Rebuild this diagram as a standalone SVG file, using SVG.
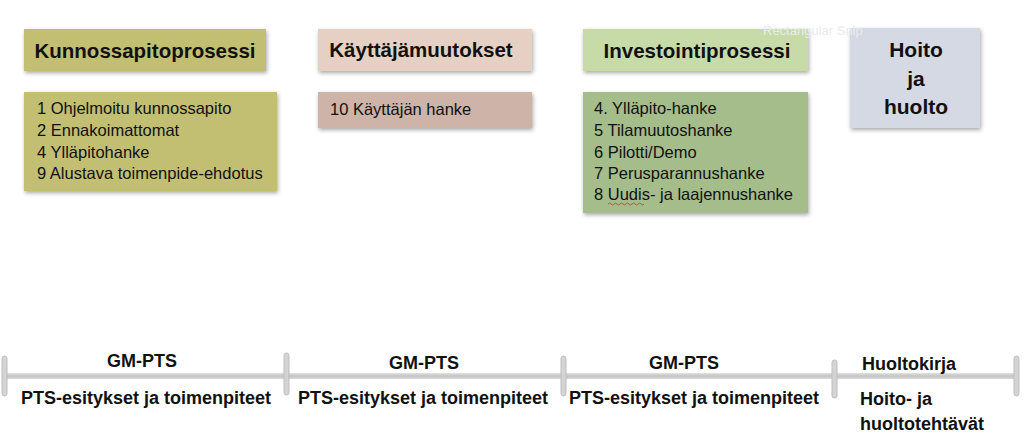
<svg xmlns="http://www.w3.org/2000/svg" width="1024" height="437" viewBox="0 0 1024 437">
<style>
.t{font-family:"Liberation Sans",Arial,sans-serif;fill:#111;}
.h{font-size:20.5px;font-weight:bold;}
.i{font-size:16.5px;}
.l{font-size:18px;font-weight:bold;}
.box{filter:url(#sh);}
.tick{fill:#d4d4d4;stroke:#bdbdbd;stroke-width:1;}
</style>
<defs>
<filter id="sh" x="-10%" y="-20%" width="120%" height="140%">
<feGaussianBlur in="SourceAlpha" stdDeviation="2"/>
<feOffset dx="1" dy="2" result="b"/>
<feComponentTransfer><feFuncA type="linear" slope="0.35"/></feComponentTransfer>
<feMerge><feMergeNode/><feMergeNode in="SourceGraphic"/></feMerge>
</filter>
<linearGradient id="lg" x1="0" y1="0" x2="0" y2="1">
<stop offset="0" stop-color="#e2e2e2"/><stop offset="0.5" stop-color="#c4c4c4"/><stop offset="1" stop-color="#dadada"/>
</linearGradient>
</defs>
<rect width="1024" height="437" fill="#fff"/>

<g id="kunnossapito">
<rect class="box" x="24" y="29" width="242" height="42" fill="#c2bf73"/>
<text x="145" y="58" class="t h" text-anchor="middle">Kunnossapitoprosessi</text>
</g>
<g id="kunnossapito-items">
<rect class="box" x="24" y="92" width="253" height="99" fill="#c2bf73"/>
<text class="t i" x="37" y="114">1 Ohjelmoitu kunnossapito</text>
<text class="t i" x="37" y="136">2 Ennakoimattomat</text>
<text class="t i" x="37" y="158">4 Ylläpitohanke</text>
<text class="t i" x="37" y="179">9 Alustava toimenpide-ehdotus</text>
</g>

<g id="kayttaja">
<rect class="box" x="318" y="29" width="214" height="42" fill="#e6d0c4"/>
<text x="421" y="57" class="t h" text-anchor="middle">Käyttäjämuutokset</text>
</g>
<g id="kayttaja-items">
<rect class="box" x="318" y="92" width="214" height="36" fill="#cdb3a8"/>
<text class="t i" x="330" y="115">10 Käyttäjän hanke</text>
</g>

<g id="investointi">
<rect class="box" x="583" y="29" width="225" height="42" fill="#c6dba8"/>
<text x="697" y="58" class="t h" text-anchor="middle">Investointiprosessi</text>
</g>
<g id="investointi-items">
<rect class="box" x="583" y="92" width="225" height="121" fill="#a5bd8b"/>
<text class="t i" x="594" y="114">4. Ylläpito-hanke</text>
<text class="t i" x="594" y="136">5 Tilamuutoshanke</text>
<text class="t i" x="594" y="158">6 Pilotti/Demo</text>
<text class="t i" x="594" y="179">7 Perusparannushanke</text>
<text class="t i" x="594" y="200">8 Uudis- ja laajennushanke</text>
<path d="M608 204 q1.5 -2 3 0 t3 0 t3 0 t3 0 t3 0 t3 0 t3 0 t3 0 t3 0 t3 0 t3 0 t3 0" fill="none" stroke="#d03030" stroke-width="0.8"/>
</g>

<g id="hoito">
<rect class="box" x="850" y="28" width="130" height="100" fill="#d4d9e3"/>
<text x="916" y="57" class="t h" text-anchor="middle" style="font-size:21px">Hoito</text>
<text x="916" y="86" class="t h" text-anchor="middle" style="font-size:21px">ja</text>
<text x="916" y="114" class="t h" text-anchor="middle" style="font-size:21px">huolto</text>
</g>
<text x="763" y="35" class="t" style="font-size:13px;fill:#e9ebee">Rectangular Snip</text>

<g id="connectors">
<rect x="4" y="373" width="1013" height="6" fill="url(#lg)"/>
<rect class="tick" x="2" y="356" width="5" height="40" rx="2.5"/>
<rect class="tick" x="284" y="353" width="5" height="42" rx="2.5"/>
<rect class="tick" x="561" y="356" width="5" height="40" rx="2.5"/>
<rect class="tick" x="832" y="360" width="5" height="38" rx="2.5"/>
<rect class="tick" x="1014" y="356" width="5" height="40" rx="2.5"/>
</g>

<g id="labels">
<text class="t l" x="142" y="367" text-anchor="middle">GM-PTS</text>
<text class="t l" x="146" y="404" text-anchor="middle">PTS-esitykset ja toimenpiteet</text>
<text class="t l" x="424" y="369" text-anchor="middle">GM-PTS</text>
<text class="t l" x="423" y="404" text-anchor="middle">PTS-esitykset ja toimenpiteet</text>
<text class="t l" x="684" y="369" text-anchor="middle">GM-PTS</text>
<text class="t l" x="694" y="404" text-anchor="middle">PTS-esitykset ja toimenpiteet</text>
<text class="t l" x="862" y="370">Huoltokirja</text>
<text class="t l" x="860" y="405">Hoito- ja</text>
<text class="t l" x="860" y="430">huoltotehtävät</text>
</g>
</svg>
